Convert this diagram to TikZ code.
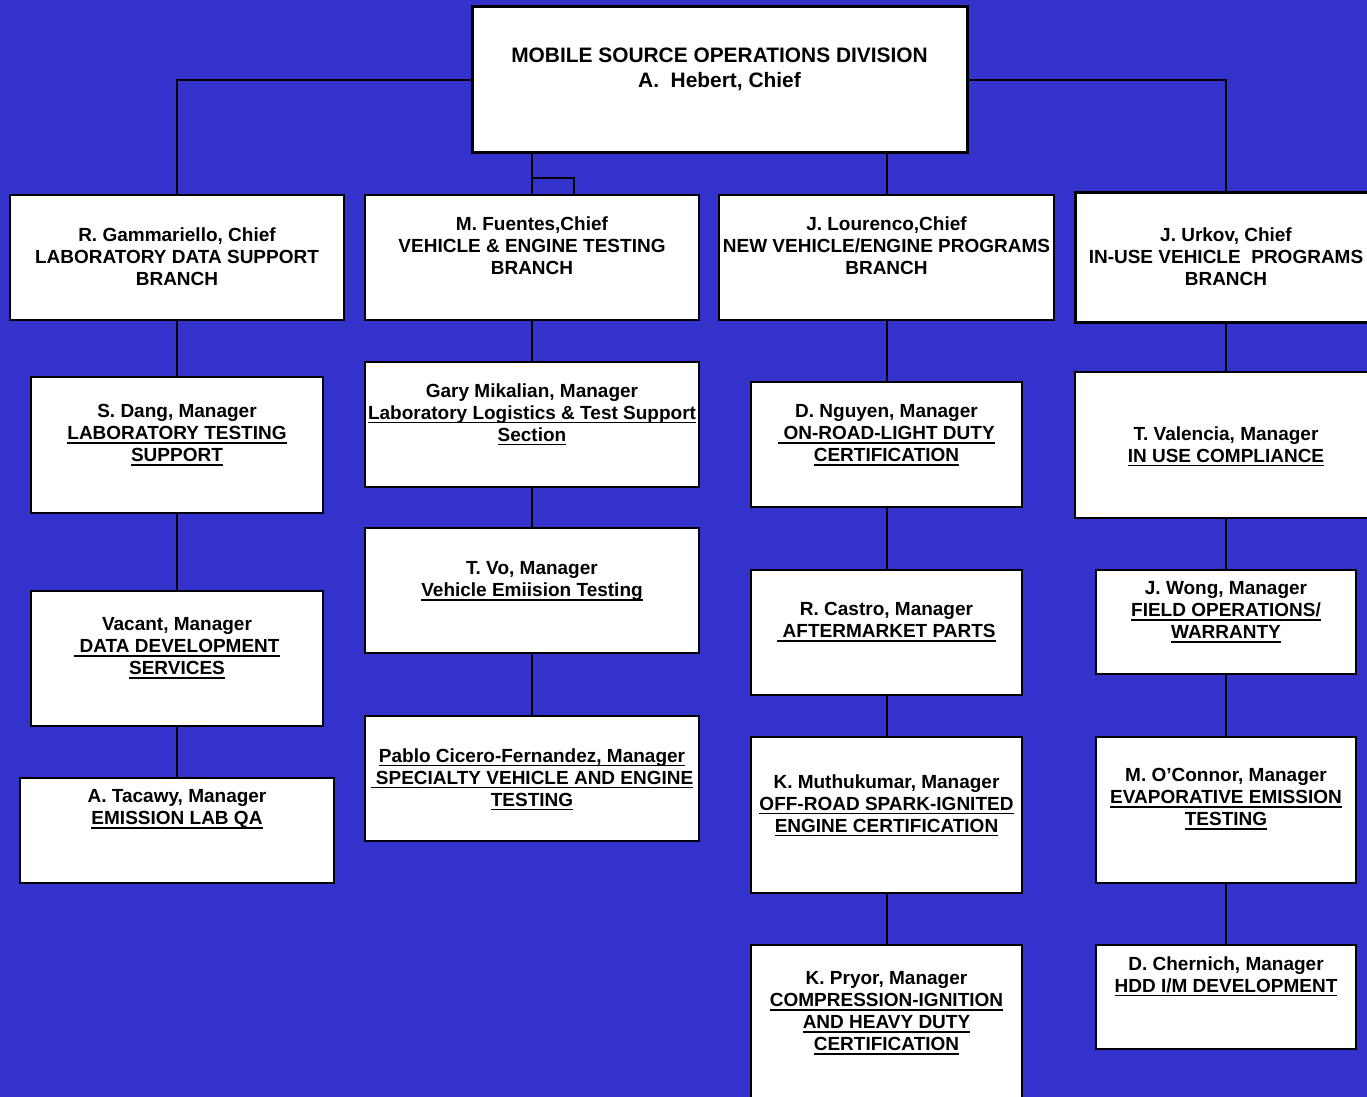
\documentclass[tikz,border=0pt]{standalone}
\usepackage{fontspec}
\setmainfont{Liberation Sans}
\usetikzlibrary{fit}
\definecolor{BgBlue}{RGB}{51,51,204}
\newsavebox{\undlbox}
\newcommand{\undl}[1]{\sbox{\undlbox}{#1}\rlap{\rule[-2pt]{\wd\undlbox}{0.8pt}}\usebox{\undlbox}}
\tikzset{
  box/.style = {draw=black, fill=white, line width=1pt, inner sep=0pt},
  chiefbox/.style = {box, line width=1.5pt},
  txt/.style = {anchor=north, align=center, inner sep=0pt, font=\fontsize{9.5}{11}\selectfont\bfseries},
  link/.style = {black, line width=1pt},
}

\begin{document}
\begin{tikzpicture}[x=0.5pt, y=-0.5pt]
  \fill[BgBlue] (0,0) rectangle (1367,1097);
  \useasboundingbox (0,0) rectangle (1367,1097);

  % division
  \node[chiefbox, fit={(472,7) (967,153)}] (div) {};
  \node[txt, font=\fontsize{10.45}{12.5}\selectfont\bfseries] (divt) at (719.5,47.4)
    {MOBILE SOURCE OPERATIONS DIVISION\\A.\ \ Hebert, Chief};

  % branches
  \node[box, fit={(10,195) (344,320)}] (gam) {};
  \node[txt] (gamt) at (177,227.2) {R. Gammariello, Chief\\LABORATORY DATA SUPPORT\\BRANCH};
  \node[box, fit={(365,195) (699,320)}] (fue) {};
  \node[txt] (fuet) at (532,216.2) {M. Fuentes,Chief\\VEHICLE \& ENGINE TESTING\\BRANCH};
  \node[box, fit={(719,195) (1054,320)}] (lou) {};
  \node[txt] (lout) at (886.5,216.2) {J. Lourenco,Chief\\NEW VEHICLE/ENGINE PROGRAMS\\BRANCH};
  \node[chiefbox, fit={(1075,193) (1377,322)}] (urk) {};
  \node[txt] (urkt) at (1226,227.2) {J. Urkov, Chief\\IN-USE VEHICLE\ \ PROGRAMS\\BRANCH};

  % laboratory data support
  \node[box, fit={(31,377) (323,513)}] (dang) {};
  \node[txt] (dangt) at (177,404.2) {S. Dang, Manager\\\undl{LABORATORY TESTING}\\\undl{SUPPORT}};
  \node[box, fit={(31,591) (323,726)}] (vac) {};
  \node[txt] (vact) at (177,617.2) {Vacant, Manager\\\undl{\ DATA DEVELOPMENT}\\\undl{SERVICES}};
  \node[box, fit={(20,778) (334,883)}] (tac) {};
  \node[txt] (tact) at (177,789.2) {A. Tacawy, Manager\\\undl{EMISSION LAB QA}};

  % vehicle & engine testing
  \node[box, fit={(365,362) (699,487)}] (mik) {};
  \node[txt] (mikt) at (532,383.2) {Gary Mikalian, Manager\\\undl{Laboratory Logistics \& Test Support}\\\undl{Section}};
  \node[box, fit={(365,528) (699,653)}] (vo) {};
  \node[txt] (vot) at (532,561.2) {T. Vo, Manager\\\undl{Vehicle Emiision Testing}};
  \node[box, fit={(365,716) (699,841)}] (pab) {};
  \node[txt] (pabt) at (532,748.2) {\undl{Pablo Cicero-Fernandez, Manager}\\\undl{\ SPECIALTY VEHICLE AND ENGINE}\\\undl{TESTING}};

  % new vehicle/engine programs
  \node[box, fit={(751,382) (1022,507)}] (ngu) {};
  \node[txt] (ngut) at (886.5,404.2) {D. Nguyen, Manager\\\undl{\ ON-ROAD-LIGHT DUTY}\\\undl{CERTIFICATION}};
  \node[box, fit={(751,570) (1022,695)}] (cas) {};
  \node[txt] (cast) at (886.5,602.2) {R. Castro, Manager\\\undl{\ AFTERMARKET PARTS}};
  \node[box, fit={(751,737) (1022,893)}] (mut) {};
  \node[txt] (mutt) at (886.5,774.2) {K. Muthukumar, Manager\\\undl{OFF-ROAD SPARK-IGNITED}\\\undl{ENGINE CERTIFICATION}};
  \node[box, fit={(751,945) (1022,1110)}] (pry) {};
  \node[txt] (pryt) at (886.5,971.2) {K. Pryor, Manager\\\undl{COMPRESSION-IGNITION}\\\undl{AND HEAVY DUTY}\\\undl{CERTIFICATION}};

  % in-use vehicle programs
  \node[box, fit={(1075,372) (1377,518)}] (val) {};
  \node[txt] (valt) at (1226,426.2) {T. Valencia, Manager\\\undl{IN USE COMPLIANCE}};
  \node[box, fit={(1096,570) (1356,674)}] (won) {};
  \node[txt] (wont) at (1226,581.2) {J. Wong, Manager\\\undl{FIELD OPERATIONS/}\\\undl{WARRANTY}};
  \node[box, fit={(1096,737) (1356,883)}] (oco) {};
  \node[txt] (ocot) at (1226,768.2) {M. O'Connor, Manager\\\undl{EVAPORATIVE EMISSION}\\\undl{TESTING}};
  \node[box, fit={(1096,945) (1356,1049)}] (che) {};
  \node[txt] (chet) at (1226,956.2) {D. Chernich, Manager\\\undl{HDD I/M DEVELOPMENT}};

  % connectors
  \draw[link] (div.west) -| (gam.north);
  \draw[link] (div.east) -| (urk.north);
  \draw[link, line width=0.6pt] (div.south -| fue.north) -- (fue.north);
  \draw[link] (fue.north) -- ++(0,-16) -- ++(42,0) -- ++(0,16);
  \draw[link] (div.south -| lou.north) -- (lou.north);
  \foreach \a/\b in {gam/dang, dang/vac, vac/tac, fue/mik, mik/vo, vo/pab,
                     lou/ngu, ngu/cas, cas/mut, mut/pry,
                     urk/val, val/won, won/oco, oco/che}
    \draw[link] (\a.south) -- (\b.north);
\end{tikzpicture}
\end{document}
